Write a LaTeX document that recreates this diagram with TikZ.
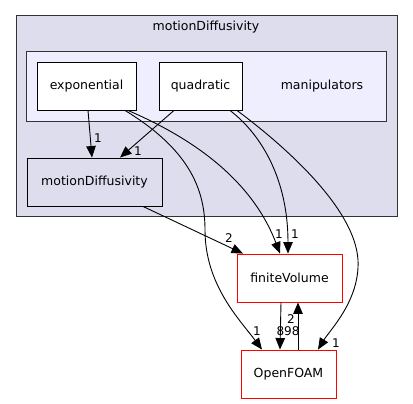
\documentclass[tikz,border=0pt]{standalone}
\usepackage{fontspec}
\setmainfont{DejaVu Sans}
\usetikzlibrary{arrows.meta,positioning}
\definecolor{clfill}{HTML}{DDDDEE}
\definecolor{subfill}{HTML}{EEEEFF}
\begin{document}
\begin{tikzpicture}[x=1pt,y=-1pt,
		dir/.style={draw=black,fill=white,line width=0.9pt,minimum height=48pt,inner sep=0pt,font=\fontsize{12.5}{14}\selectfont},
		ext/.style={dir,draw=red},
		dep/.style={-{Triangle[length=11.5pt,width=9.5pt]},line width=0.9pt},
		lbl/.style={font=\fontsize{12}{14}\selectfont,inner sep=0pt}]
	\useasboundingbox (0,0) rectangle (413,404);
	\draw[fill=clfill,draw=black!80,line width=0.9pt] (16,15) rectangle (397,216);
	\node (title) at (206,27) {\fontsize{12.5}{14}\selectfont motionDiffusivity};
	\draw[fill=subfill,draw=black!80,line width=0.9pt] (26,51) rectangle (386,121);
	\node (manip) at (322,86) {\fontsize{12.5}{14}\selectfont manipulators};
	\node[dir,minimum width=99pt] (exp) at (86.5,86) {exponential};
	\node[dir,minimum width=83pt] (quad) at (200.5,86) {quadratic};
	\node[dir,fill=clfill,minimum width=135pt] (md) at (94.5,182) {motionDiffusivity};
	\node[ext,minimum width=105pt] (fv) at (289.5,278) {finiteVolume};
	\node[ext,minimum width=95pt] (of) at (288.5,374) {OpenFOAM};
	% dependencies
	\draw[dep] ([xshift=1.5pt]exp.south) -- ([xshift=-2.5pt]md.north)
		node[lbl] at (98,138) {1};
	\draw[dep] ([xshift=-26.5pt]quad.south) -- ([xshift=25.5pt]md.north)
		node[lbl] at (138,151) {1};
	\draw[dep] ([xshift=48.5pt]md.south) -- ([xshift=-46.5pt]fv.north)
		node[lbl] at (229,238) {2};
	\draw[dep] ([xshift=41.5pt]exp.south) .. controls (185,135) and (250,175) .. ([xshift=-9.5pt]fv.north)
		node[lbl] at (279,234) {1};
	\draw[dep] ([xshift=38.5pt]exp.south) .. controls (190,150) and (205,190) .. (205,230)
		.. controls (205,285) and (240,320) .. ([xshift=-26.5pt]of.north)
		node[lbl] at (257,331) {1};
	\draw[dep] ([xshift=29.5pt]quad.south) .. controls (262,135) and (288,180) .. ([xshift=-1.5pt]fv.north)
		node[lbl] at (295,234) {1};
	\draw[dep] ([xshift=36.5pt]quad.south) .. controls (290,150) and (355,210) .. (358,260)
		.. controls (360,300) and (330,330) .. ([xshift=29.5pt]of.north)
		node[lbl] at (336,343) {1};
	\draw[dep] ([xshift=-8.5pt]fv.south) -- ([xshift=-8.5pt]of.north)
		node[lbl] at (288,331) {898};
	\draw[dep] ([xshift=9.5pt]of.north) -- ([xshift=8.5pt]fv.south)
		node[lbl] at (291,319) {2};
\end{tikzpicture}
\end{document}
